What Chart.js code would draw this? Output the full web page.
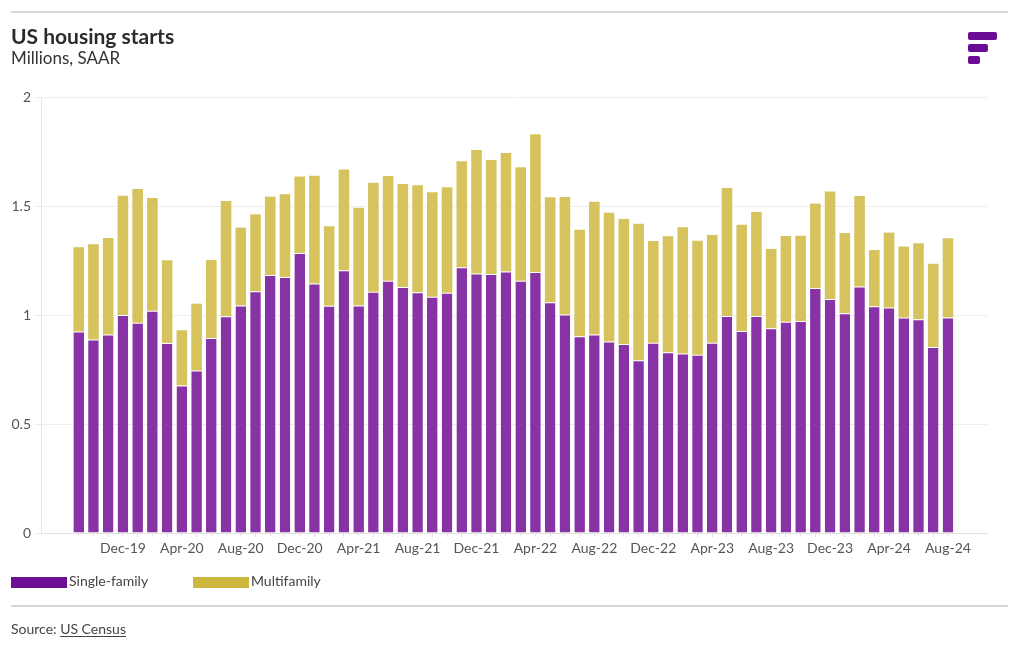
<!DOCTYPE html>
<html>
<head>
<meta charset="utf-8">
<script src="https://cdn.jsdelivr.net/npm/chart.js@4"></script>
<style>
  body { margin: 0; background: #fff; font-family: Lato, "Open Sans", sans-serif; color: #333; }
  #wrap { position: relative; width: 1020px; height: 650px; overflow: hidden; }
  #chart { position: absolute; left: 0; top: 0; }
  .rule { position: absolute; left: 11px; width: 997px; height: 2px; background: #d6d6d6; }
  #title { position: absolute; left: 11px; top: 23px; font-size: 21px; font-weight: 700; color: #2b2b2b; }
  #sub { position: absolute; left: 11px; top: 47px; font-size: 17px; color: #333; }
  .logo { position: absolute; left: 968px; height: 8px; border-radius: 2px; background: #6b0c95; }
  .leg { position: absolute; top: 572px; font-size: 14px; color: #444; }
  .sw { position: absolute; top: 577px; width: 56px; height: 11px; }
  #source { position: absolute; left: 11px; top: 620px; font-size: 14px; color: #444; }
  #source u { text-underline-offset: 2px; }
</style>
</head>
<body>
<div id="wrap">
  <canvas id="chart" width="1020" height="650"></canvas>
  <div class="rule" style="top:11px"></div>
  <div id="title">US housing starts</div>
  <div id="sub">Millions, SAAR</div>
  <div class="logo" style="top:32px;width:29px"></div>
  <div class="logo" style="top:44px;width:20px"></div>
  <div class="logo" style="top:56px;width:12px"></div>
  <div id="legend"></div>
  <div class="rule" style="top:605px"></div>
  <div id="source">Source: <u>US Census</u></div>
</div>
<script>
const months = [
  "Sep-19", "Oct-19", "Nov-19", "Dec-19",
  "Jan-20", "Feb-20", "Mar-20", "Apr-20", "May-20", "Jun-20", "Jul-20", "Aug-20", "Sep-20", "Oct-20", "Nov-20", "Dec-20",
  "Jan-21", "Feb-21", "Mar-21", "Apr-21", "May-21", "Jun-21", "Jul-21", "Aug-21", "Sep-21", "Oct-21", "Nov-21", "Dec-21",
  "Jan-22", "Feb-22", "Mar-22", "Apr-22", "May-22", "Jun-22", "Jul-22", "Aug-22", "Sep-22", "Oct-22", "Nov-22", "Dec-22",
  "Jan-23", "Feb-23", "Mar-23", "Apr-23", "May-23", "Jun-23", "Jul-23", "Aug-23", "Sep-23", "Oct-23", "Nov-23", "Dec-23",
  "Jan-24", "Feb-24", "Mar-24", "Apr-24", "May-24", "Jun-24", "Jul-24", "Aug-24"
];

const tickLabels = [
  "Dec-19", "Apr-20", "Aug-20", "Dec-20", "Apr-21", "Aug-21", "Dec-21",
  "Apr-22", "Aug-22", "Dec-22", "Apr-23", "Aug-23", "Dec-23", "Apr-24", "Aug-24"
];

// millions of units, seasonally adjusted annual rate
const singleFamily = [
  0.924, 0.888, 0.911, 1.000, 0.965, 1.020, 0.872, 0.677, 0.745, 0.894,
  0.994, 1.044, 1.109, 1.183, 1.174, 1.284, 1.144, 1.043, 1.205, 1.044,
  1.107, 1.157, 1.128, 1.104, 1.084, 1.102, 1.219, 1.190, 1.188, 1.199,
  1.157, 1.197, 1.058, 1.002, 0.902, 0.910, 0.879, 0.867, 0.792, 0.873,
  0.829, 0.823, 0.818, 0.873, 0.995, 0.927, 0.995, 0.939, 0.969, 0.972,
  1.124, 1.073, 1.008, 1.131, 1.040, 1.034, 0.988, 0.980, 0.853, 0.989
];

const multiFamily = [
  0.387, 0.436, 0.442, 0.547, 0.613, 0.517, 0.379, 0.253, 0.307, 0.358,
  0.529, 0.357, 0.353, 0.360, 0.380, 0.351, 0.495, 0.364, 0.463, 0.448,
  0.500, 0.481, 0.473, 0.491, 0.479, 0.484, 0.486, 0.567, 0.523, 0.544,
  0.521, 0.632, 0.482, 0.539, 0.489, 0.610, 0.590, 0.573, 0.627, 0.466,
  0.532, 0.579, 0.523, 0.494, 0.588, 0.487, 0.477, 0.364, 0.393, 0.392,
  0.387, 0.494, 0.368, 0.415, 0.258, 0.344, 0.326, 0.349, 0.382, 0.363
];

const seriesColors = { single: "#8733a6", multi: "#d6c35e" };
const legendColors = { single: "#6e0e94", multi: "#cdb73e" };

// html legend
const legend = document.getElementById("legend");
[["Single-family", legendColors.single, 11], ["Multifamily", legendColors.multi, 193]].forEach(([name, col, x]) => {
  legend.insertAdjacentHTML("beforeend",
    `<div class="sw" style="left:${x}px;background:${col}"></div>` +
    `<div class="leg" style="left:${x + 58}px">${name}</div>`);
});

const toPoints = arr => arr.map((v, i) => ({ x: i, y: v }));

new Chart(document.getElementById("chart"), {
  type: "bar",
  data: {
    datasets: [
      {
        label: "Single-family",
        data: toPoints(singleFamily),
        backgroundColor: seriesColors.single,
        borderColor: "#ffffff",
        borderWidth: { top: 1, left: 0, right: 0, bottom: 0 },
        borderSkipped: false,
        categoryPercentage: 0.8,
        barPercentage: 0.9
      },
      {
        label: "Multifamily",
        data: toPoints(multiFamily),
        backgroundColor: seriesColors.multi,
        borderWidth: 0,
        categoryPercentage: 0.8,
        barPercentage: 0.9
      }
    ]
  },
  options: {
    responsive: false,
    animation: false,
    layout: { padding: { left: 0, top: 97, right: 33, bottom: 87 } },
    plugins: { legend: { display: false }, tooltip: { enabled: false } },
    scales: {
      x: {
        type: "linear",
        stacked: true,
        offset: false,
        min: -2.56,
        max: 61.65,
        afterBuildTicks: scale => { scale.ticks = months.map((_, i) => ({ value: i })); },
        afterFit: scale => { scale.height = 30; },
        border: { display: true, color: "#e2e2e2" },
        grid: { offset: false, drawOnChartArea: false, drawTicks: true, tickLength: 4, color: "#e2e2e2" },
        ticks: {
          autoSkip: false,
          maxRotation: 0,
          padding: 3,
          color: "#555",
          font: { family: "Lato", size: 14 },
          callback: v => tickLabels.includes(months[v]) ? months[v] : ""
        }
      },
      y: {
        stacked: true,
        min: 0,
        max: 2,
        afterFit: scale => { scale.width = 41; },
        border: { display: true, color: "#e6e6e6" },
        grid: { color: "#eeeeee", tickLength: 6 },
        ticks: {
          stepSize: 0.5,
          padding: 4,
          color: "#555",
          font: { family: "Lato", size: 14 },
          callback: v => String(v)
        }
      }
    }
  }
});
</script>
</body>
</html>
